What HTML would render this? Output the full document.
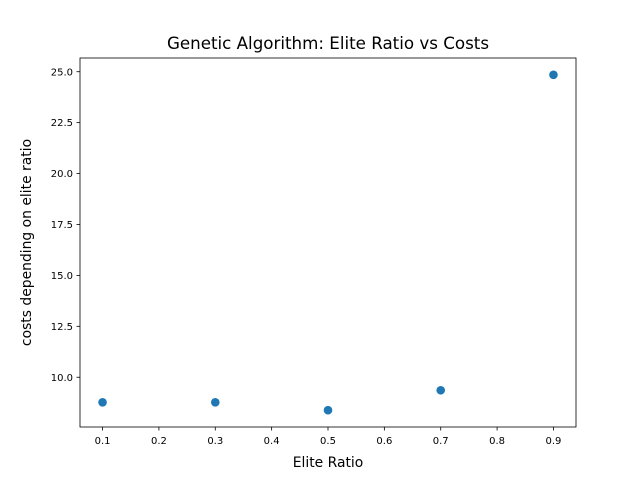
<!DOCTYPE html>
<html><head><meta charset="utf-8"><style>
html,body{margin:0;padding:0;background:#fff;}
svg{display:block;font-family:"DejaVu Sans","Liberation Sans",sans-serif;}
</style></head><body>
<svg id="chart" width="640" height="480" viewBox="0 0 640 480">
<rect x="0" y="0" width="640" height="480" fill="#fff"/>
<text x="328" y="49" font-size="16.7" text-anchor="middle" fill="#000">Genetic Algorithm: Elite Ratio vs Costs</text>
<g id="plot"></g>
<text x="328" y="467" font-size="13.9" text-anchor="middle">Elite Ratio</text>
<text x="31" y="242.5" font-size="13.9" text-anchor="middle" transform="rotate(-90 31 242.5)">costs depending on elite ratio</text>
</svg>
<script>
const eliteRatios = [0.1, 0.3, 0.5, 0.7, 0.9];
const costs = [8.77, 8.77, 8.38, 9.36, 24.85];
const xTicks = [0.1, 0.2, 0.3, 0.4, 0.5, 0.6, 0.7, 0.8, 0.9];
const yTicks = [10.0, 12.5, 15.0, 17.5, 20.0, 22.5, 25.0];

const L = 80, R = 576, T = 58, B = 427;
const xmin0 = Math.min(...eliteRatios), xmax0 = Math.max(...eliteRatios);
const ymin0 = Math.min(...costs), ymax0 = Math.max(...costs);
const xp = (xmax0 - xmin0) * 0.05, yp = (ymax0 - ymin0) * 0.05;
const xmin = xmin0 - xp, xmax = xmax0 + xp, ymin = ymin0 - yp, ymax = ymax0 + yp;
const sx = v => L + (v - xmin) / (xmax - xmin) * (R - L);
const sy = v => B - (v - ymin) / (ymax - ymin) * (B - T);
const NS = "http://www.w3.org/2000/svg";
const g = document.getElementById('plot');
function mk(tag, attrs) { const e = document.createElementNS(NS, tag); for (const k in attrs) e.setAttribute(k, attrs[k]); g.appendChild(e); return e; }

eliteRatios.forEach((x, i) => {
  const c = mk('circle', {cx: sx(x), cy: sy(costs[i]), r: 4.3, fill: '#1f77b4'});
  
  
});
xTicks.forEach(t => {
  if (t < xmin || t > xmax) return;
  const X = sx(t);
  const l = mk('line', {x1: X, x2: X, y1: B, y2: B + 3.5, stroke: '#000', 'stroke-width': 0.8});
  
  
  const tx = mk('text', {x: X, y: B + 17, 'font-size': 10, 'text-anchor': 'middle'});
  tx.textContent = t.toFixed(1);
  
  
});
yTicks.forEach(t => {
  if (t < ymin || t > ymax) return;
  const Y = sy(t);
  const l = mk('line', {x1: L - 3.5, x2: L, y1: Y, y2: Y, stroke: '#000', 'stroke-width': 0.8});
  
  
  const tx = mk('text', {x: L - 7, y: Y + 3.6, 'font-size': 10, 'text-anchor': 'end'});
  tx.textContent = t.toFixed(1);
  
  
});
const frame = mk('rect', {x: L, y: T, width: R - L, height: B - T, fill: 'none', stroke: '#000', 'stroke-width': 0.8});


</script>
</body></html>
